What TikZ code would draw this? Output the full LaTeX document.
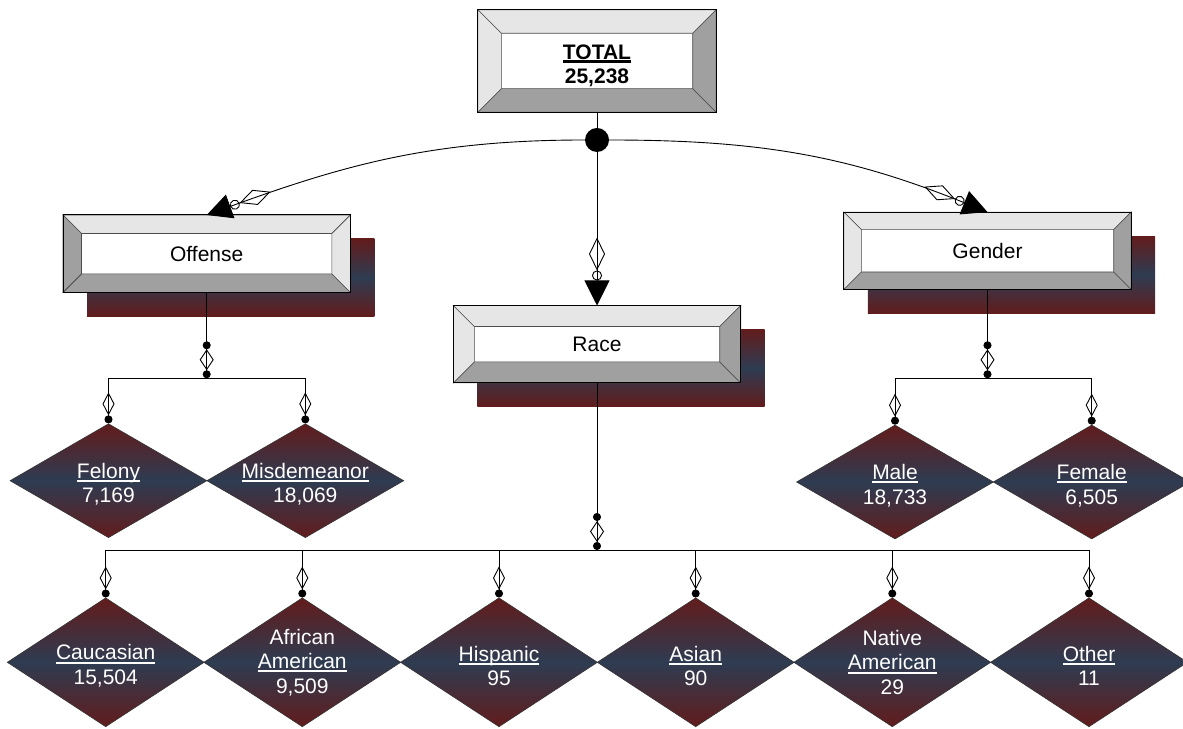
\documentclass[tikz,border=0pt]{standalone}
\usepackage{fontspec}
\setmainfont{Liberation Sans}
\usetikzlibrary{shapes.geometric,arrows.meta,calc,backgrounds}

\definecolor{dred}{RGB}{98,28,28}
\definecolor{dslate}{RGB}{46,60,82}
\definecolor{bevlight}{RGB}{230,230,230}
\definecolor{bevdark}{RGB}{160,160,160}

\newcommand{\catline}[2][2pt]{\setbox0\hbox{#2}\rlap{\rule[-3.7pt]{\wd0}{#1}}\box0}

\tikzset{
  plate/.style={draw=black, fill=white, inner sep=0pt, align=center,
    minimum width=287pt, minimum height=77pt, font=\fontsize{21}{24.5}\selectfont},
  cat/.style={diamond, draw=black!80, line width=0.6pt, inner sep=0pt,
    top color=dred, bottom color=dred, middle color=dslate},
  uppercat/.style={cat, minimum width=197pt, minimum height=114pt},
  racecat/.style={cat, minimum width=197pt, minimum height=129pt},
  cattext/.style={text=white, align=center, yshift=-3.5pt, font=\fontsize{21}{24.5}\selectfont},
  hub/.style={circle, fill=black, inner sep=0pt, minimum size=24pt},
  link/.style={line width=0.9pt,
    -{Diamond[open,length=33pt,width=16pt] Circle[open,length=10pt] Triangle[length=25pt,width=25pt]}},
  parentlink/.style={line width=0.9pt,
    -{Circle[length=8pt] Diamond[open,length=21pt,width=14pt] Circle[length=8pt]}},
  kidlink/.style={line width=0.9pt, -{Diamond[open,length=23pt,width=12pt] Circle[length=8pt]}},
  bus/.style={line width=0.9pt},
  bevline/.style={draw=black!70, line width=0.6pt},
  redblue/.style={top color=dred, bottom color=dred, middle color=dslate},
}

% #1 node, #2 bevel depth, #3 left side, #4 right side
\newcommand{\bevels}[4]{%
  \path (#1.north west) coordinate (bvA) (#1.north east) coordinate (bvB)
        (#1.south east) coordinate (bvC) (#1.south west) coordinate (bvD);
  \path ($(bvA)+(#2,-#2)$) coordinate (bva) ($(bvB)+(-#2,-#2)$) coordinate (bvb)
        ($(bvC)+(-#2,#2)$) coordinate (bvc) ($(bvD)+(#2,#2)$) coordinate (bvd);
  \filldraw[bevline, fill=bevlight] (bvA) -- (bvB) -- (bvb) -- (bva) -- cycle;
  \filldraw[bevline, fill=bevdark] (bvD) -- (bvC) -- (bvc) -- (bvd) -- cycle;
  \filldraw[bevline, fill=#3] (bvA) -- (bva) -- (bvd) -- (bvD) -- cycle;
  \filldraw[bevline, fill=#4] (bvB) -- (bvb) -- (bvc) -- (bvC) -- cycle;
  \draw[line width=1pt] (bvA) rectangle (bvC);
}
\newcommand{\plateshadow}[1]{%
  \begin{scope}[on background layer]
    \shade[redblue] ($(#1.north west)+(24,-24)$) rectangle ($(#1.south east)+(24,-24)$);
  \end{scope}}

\begin{document}
\begin{tikzpicture}[x=1pt,y=1pt]
    \useasboundingbox (0,0) rectangle (1183,728);

    \node[plate, minimum width=238pt, minimum height=102pt] (total) at (597,667) {};
    \bevels{total}{23.5}{bevlight}{bevdark}
    \node[font=\fontsize{21}{24.5}\selectfont\bfseries, align=center, yshift=-5pt] at (total)
      {\catline[3pt]{TOTAL}\\25,238};

    \node[hub] (hub) at (597,588) {};
    \draw[bus] (total) -- (hub);

    \node[plate] (offense) at (206.7,474.3) {Offense};
    \bevels{offense}{18.5}{bevdark}{bevlight}
    \plateshadow{offense}

    \node[plate] (race) at (597,383.8) {Race};
    \bevels{race}{21}{bevlight}{bevdark}
    \plateshadow{race}

    \node[plate] (gender) at (987.5,477.2) {Gender};
    \bevels{gender}{17.5}{bevlight}{bevdark}
    \plateshadow{gender}

    \draw[link] (hub) to[out=180,in=20] (offense.north);
    \draw[link] (hub) -- (race.north);
    \draw[link] (hub) to[out=0,in=158] (gender.north);

    \node[uppercat] (felony) at (108.5,247.3) {};
    \node[cattext] at (felony) {\catline{Felony}\\7,169};
    \node[uppercat] (misd) at (305.3,247.3) {};
    \node[cattext] at (misd) {\catline{Misdemeanor}\\18,069};

    \node[uppercat] (male) at (895,246) {};
    \node[cattext] at (male) {\catline{Male}\\18,733};
    \node[uppercat] (female) at (1091.7,246) {};
    \node[cattext] at (female) {\catline{Female}\\6,505};

    \node[racecat] (caucasian) at (105.7,65.7) {};
    \node[cattext] at (caucasian) {\catline{Caucasian}\\15,504};
    \node[racecat] (afram) at (302.3,65.7) {};
    \node[cattext, yshift=3.5pt] at (afram) {African\\\catline{American}\\9,509};
    \node[racecat] (hispanic) at (499,65.7) {};
    \node[cattext] at (hispanic) {\catline{Hispanic}\\95};
    \node[racecat] (asian) at (695.7,65.7) {};
    \node[cattext] at (asian) {\catline{Asian}\\90};
    \node[racecat] (native) at (892.3,65.7) {};
    \node[cattext, yshift=3.5pt] at (native) {Native\\\catline{American}\\29};
    \node[racecat] (other) at (1089,65.7) {};
    \node[cattext] at (other) {\catline{Other}\\11};

    \coordinate (offbus) at (206.7,349.7);
    \coordinate (genbus) at (987.5,349.7);
    \coordinate (racebus) at (597,178);

    \draw[parentlink] (offense) -- (offbus);
    \draw[bus] (felony.north |- offbus) -- (misd.north |- offbus);
    \foreach \k in {felony,misd}
      \draw[kidlink] (\k.north |- offbus) -- (\k.north);

    \draw[parentlink] (gender) -- (genbus);
    \draw[bus] (male.north |- genbus) -- (female.north |- genbus);
    \foreach \k in {male,female}
      \draw[kidlink] (\k.north |- genbus) -- (\k.north);

    \draw[parentlink] (race) -- (racebus);
    \draw[bus] (caucasian.north |- racebus) -- (other.north |- racebus);
    \foreach \k in {caucasian,afram,hispanic,asian,native,other}
      \draw[kidlink] (\k.north |- racebus) -- (\k.north);
\end{tikzpicture}
\end{document}
